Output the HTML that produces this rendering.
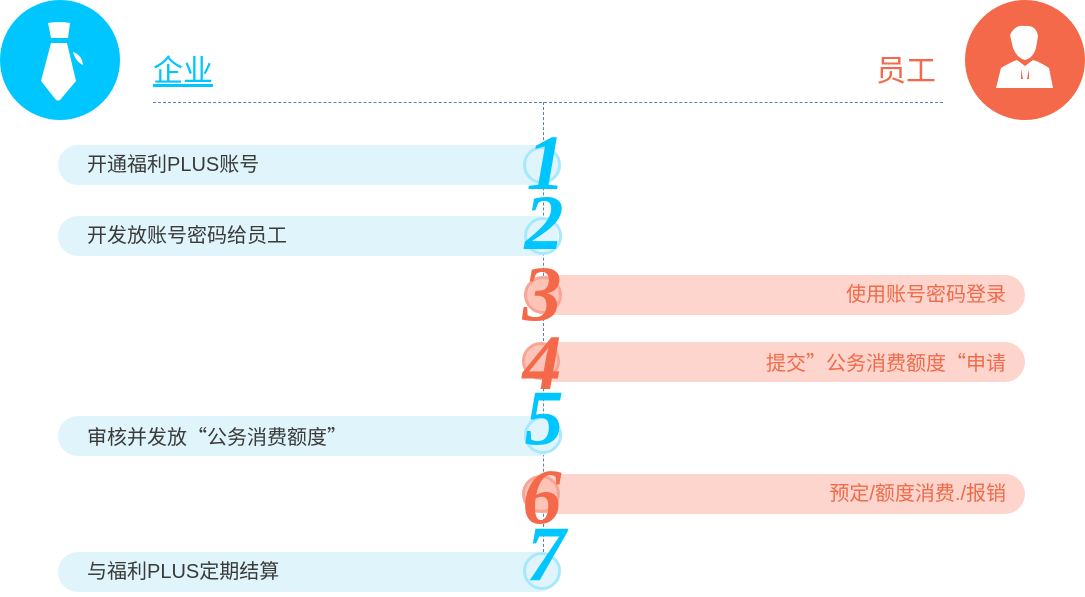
<!DOCTYPE html>
<html><head><meta charset="utf-8"><style>
body{margin:0;width:1085px;height:592px;position:relative;overflow:hidden;background:#fff;font-family:"Liberation Sans","Noto Sans CJK SC",sans-serif}
.a{position:absolute}
.q{font-family:"Noto Sans CJK SC",sans-serif}
.pb{position:absolute;left:58px;width:500px;height:40px;border-radius:20px;background:#dff4fb;color:#3a3a3a;font-size:20px;line-height:40px;padding-left:29px;box-sizing:border-box;white-space:nowrap}
.pr{position:absolute;left:530px;width:495px;height:40px;border-radius:20px;background:#fdd5cc;color:#f06a4a;font-size:20px;line-height:40px;padding-right:19px;box-sizing:border-box;text-align:right;white-space:nowrap}
.c{position:absolute;width:38px;height:38px;border-radius:50%;box-sizing:border-box}
.cb{border:3px solid #a6e9fc;background:transparent}
.cr{border:3px solid #f8a594;background:#fcc3b6}
.n{position:absolute;font-family:"Liberation Serif",serif;font-weight:bold;font-style:italic;font-size:78px;line-height:78px;width:60px;text-align:center}
.nb{color:#00c6ff}.nr{color:#f4694a}
</style></head><body>
<div class="a" style="top:0;width:120px;height:120px;border-radius:50%;background:#00c6ff;left:0"></div>
<svg class="a" style="left:8px;top:0" width="120" height="120"><path d="M40 23 Q52 21 62 23 L60 38 L43 38 Z M43 43 L59 43 L68 81 L52 100 Q50 101 48 100 L33 81 Z" fill="#fff"/><path d="M65 52 Q74 55 75 65 Q68 62 65 52Z" fill="#fff"/></svg>
<div class="a" style="left:965px;top:0;width:120px;height:120px;border-radius:50%;background:#f4694a"></div>
<svg class="a" style="left:965px;top:0" width="120" height="120"><path d="M45 35 Q50 24 60 26 Q71 25 73 36 L71 48 Q68 58 60 60 Q52 58 48 48 Z M36 68 Q46 62 52 60 L60 66 L68 60 Q75 62 84 68 L88 88 L31 88 Z" fill="#fff"/><path d="M56 69 L58 79 L56 79Z M64 69 L62 79 L64 79Z" fill="#f4694a"/></svg>
<div class="a" style="left:153px;top:46px;font-size:30px;color:#00c6ff;text-decoration:underline;text-underline-offset:3px">企业</div>
<div class="a" style="left:876px;top:46px;font-size:30px;color:#f4694a">员工</div>
<div class="a" style="left:153px;top:102px;width:790px;border-top:1px dashed #5b7fc7"></div>
<div class="a" style="left:543px;top:102px;height:460px;border-left:1px dashed #5b7fc7"></div>

<div class="pb" style="top:145px">开通福利PLUS账号</div>
<div class="pb" style="top:216px">开发放账号密码给员工</div>
<div class="pr" style="top:275px">使用账号密码登录</div>
<div class="pr" style="top:342px">提交<span class="q">”</span>公务消费额度<span class="q">“</span>申请</div>
<div class="pb" style="top:416px">审核并发放<span class="q">“</span>公务消费额度<span class="q">”</span></div>
<div class="pr" style="top:474px">预定/额度消费./报销</div>
<div class="pb" style="top:552px">与福利PLUS定期结算</div>

<div class="c cb" style="left:523px;top:146px"></div>
<div class="c cb" style="left:524px;top:217px"></div>
<div class="c cr" style="left:524px;top:276px"></div>
<div class="c cr" style="left:522px;top:342px"></div>
<div class="c cb" style="left:524px;top:416px"></div>
<div class="c cr" style="left:522px;top:475px"></div>
<div class="c cb" style="left:523px;top:552px"></div>

<div class="n nb" style="left:516px;top:124px">1</div>
<div class="n nb" style="left:514px;top:184px">2</div>
<div class="n nr" style="left:512px;top:255px">3</div>
<div class="n nr" style="left:512px;top:324px">4</div>
<div class="n nb" style="left:514px;top:379px">5</div>
<div class="n nr" style="left:512px;top:458px">6</div>
<div class="n nb" style="left:516px;top:515px">7</div>
</body></html>
